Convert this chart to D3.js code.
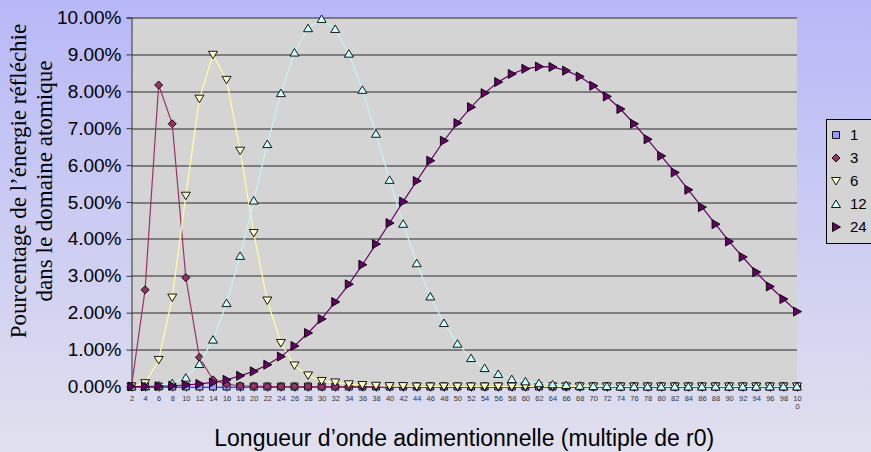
<!DOCTYPE html>
<html>
<head>
<meta charset="utf-8">
<script src="https://cdn.jsdelivr.net/npm/d3@7"></script>
<style>
  body { margin: 0; }
  svg { display: block; }
</style>
</head>
<body>
<div id="wrapper"></div>
<script>
// 1. Access Data
const categories = d3.range(2, 101, 2)
const seriesNames = ["1", "3", "6", "12", "24"]

const values1 = categories.map(() => 0)
const values3 = [0, 2.62, 8.17, 7.12, 2.95, 0.79, 0.18, 0.06, 0.02, 0.01,
  0, 0, 0, 0, 0, 0, 0, 0, 0, 0, 0, 0, 0, 0, 0,
  0, 0, 0, 0, 0, 0, 0, 0, 0, 0, 0, 0, 0, 0, 0,
  0, 0, 0, 0, 0, 0, 0, 0, 0, 0]
const values6 = [0, 0.09, 0.72, 2.41, 5.17, 7.8, 8.99, 8.31, 6.39, 4.16,
  2.33, 1.18, 0.57, 0.3, 0.15, 0.11, 0.06, 0.04, 0.02, 0.01,
  0.01, 0, 0, 0, 0, 0, 0, 0, 0, 0, 0, 0, 0, 0, 0,
  0, 0, 0, 0, 0, 0, 0, 0, 0, 0, 0, 0, 0, 0, 0]
const values12 = [0, 0.01, 0.03, 0.09, 0.24, 0.61, 1.27, 2.26, 3.54, 5.04,
  6.57, 7.95, 9.05, 9.71, 9.96, 9.69, 9.02, 8.04, 6.85, 5.6,
  4.41, 3.34, 2.44, 1.72, 1.16, 0.77, 0.5, 0.34, 0.2, 0.14,
  0.09, 0.06, 0.04, 0.02, 0.01, 0.01, 0, 0, 0, 0,
  0, 0, 0, 0, 0, 0, 0, 0, 0, 0]
const values24 = [0, 0, 0.01, 0.02, 0.04, 0.07, 0.11, 0.18, 0.29, 0.41,
  0.59, 0.81, 1.1, 1.45, 1.83, 2.29, 2.77, 3.3, 3.86, 4.43,
  5.01, 5.57, 6.12, 6.66, 7.14, 7.57, 7.95, 8.25, 8.47, 8.61,
  8.67, 8.66, 8.56, 8.4, 8.15, 7.86, 7.52, 7.12, 6.7, 6.25,
  5.8, 5.33, 4.86, 4.4, 3.93, 3.51, 3.1, 2.71, 2.37, 2.03]

const yTicks = d3.range(0, 10.01, 1)
const yTitleLines = ["Pourcentage de l\u2019\u00e9nergie r\u00e9fl\u00e9chie", "dans le domaine atomique"]
const xTitle = "Longueur d\u2019onde adimentionnelle (multiple de r0)"

const seriesValues = [values1, values3, values6, values12, values24]
const seriesStyles = [
  { symbol: "square", fill: "#9999ff", line: "#9999ff" },
  { symbol: "diamond", fill: "#993366", line: "#993366" },
  { symbol: "down", fill: "#ffffcc", line: "#ffffa0" },
  { symbol: "up", fill: "#ccffff", line: "#c4f4f4" },
  { symbol: "right", fill: "#660066", line: "#660066" },
]

// 2. Create Chart Dimensions
const dimensions = {
  width: 871,
  height: 452,
  margin: { top: 17.5, right: 74, bottom: 65.5, left: 131.5 },
}
dimensions.boundedWidth = dimensions.width - dimensions.margin.left - dimensions.margin.right
dimensions.boundedHeight = dimensions.height - dimensions.margin.top - dimensions.margin.bottom

// 3. Draw Canvas
const wrapper = d3.select("#wrapper")
  .append("svg")
  .attr("width", dimensions.width)
  .attr("height", dimensions.height)

const defs = wrapper.append("defs")
const grad = defs.append("linearGradient")
  .attr("id", "bg")
  .attr("x1", 0).attr("y1", 0).attr("x2", 0).attr("y2", 1)
grad.append("stop").attr("offset", "0%").attr("stop-color", "#b8b8f8")
grad.append("stop").attr("offset", "100%").attr("stop-color", "#e0e0ee")

wrapper.append("rect")
  .attr("width", dimensions.width)
  .attr("height", dimensions.height)
  .attr("fill", "url(#bg)")

const bounds = wrapper.append("g")
  .attr("transform", `translate(${dimensions.margin.left}, ${dimensions.margin.top})`)

// 4. Create Scales
const xScale = d3.scalePoint()
  .domain(categories)
  .range([0, dimensions.boundedWidth])
  .padding(0)

const yScale = d3.scaleLinear()
  .domain([0, 10])
  .range([dimensions.boundedHeight, 0])

// plot area
bounds.append("rect")
  .attr("width", dimensions.boundedWidth)
  .attr("height", dimensions.boundedHeight)
  .attr("fill", "#d4d4d4")

// gridlines
bounds.append("g")
  .selectAll("line")
  .data(yTicks)
  .join("line")
  .attr("x1", 0)
  .attr("x2", dimensions.boundedWidth)
  .attr("y1", d => Math.round(yScale(d)) + 0.5)
  .attr("y2", d => Math.round(yScale(d)) + 0.5)
  .attr("stroke", "#262626")
  .attr("stroke-width", 1)

// 6. Draw Peripherals (axes)
const yAxisGenerator = d3.axisLeft(yScale)
  .tickValues(yTicks)
  .tickSize(5)
  .tickPadding(5)
  .tickFormat(d => d3.format(".2f")(d) + "%")
const yAxis = bounds.append("g").call(yAxisGenerator)
yAxis.select(".domain").attr("stroke", "#333")
yAxis.selectAll(".tick line").attr("stroke", "#333")
yAxis.selectAll(".tick text")
  .attr("font-family", "Liberation Sans, Arial, sans-serif")
  .attr("font-size", 19)
  .attr("fill", "#000")

const xAxisGenerator = d3.axisBottom(xScale)
  .tickSize(5)
  .tickPadding(4)
  .tickSizeOuter(0)
const xAxis = bounds.append("g")
  .attr("transform", `translate(0, ${dimensions.boundedHeight})`)
  .call(xAxisGenerator)
xAxis.select(".domain").attr("stroke", "#333")
xAxis.selectAll(".tick line").attr("stroke", "#222")
xAxis.selectAll(".tick text")
  .attr("font-family", "Liberation Sans, Arial, sans-serif")
  .attr("font-size", 7.5)
  .attr("fill", "#333")
  .each(function (d) {
    if (d === 100) {
      const t = d3.select(this).text("")
      t.append("tspan").attr("x", 0).text("10")
      t.append("tspan").attr("x", 0).attr("dy", "1.15em").text("0")
    }
  })

// 5. Draw Data
const lineGenerator = d3.line()
  .x((d, i) => xScale(categories[i]))
  .y(d => yScale(d))

const symbolPath = (type) => {
  if (type === "square") return "M-3.5,-3.5H3.5V3.5H-3.5Z"
  if (type === "diamond") return "M0,-4L4,0L0,4L-4,0Z"
  if (type === "down") return "M-4.5,-3.5L4.5,-3.5L0,4Z"
  if (type === "up") return "M-4.5,3.5L4.5,3.5L0,-4Z"
  return "M-3.5,-4.5L4.5,0L-3.5,4.5Z"
}

seriesValues.forEach((values, si) => {
  const style = seriesStyles[si]
  const g = bounds.append("g")
  g.append("path")
    .datum(values)
    .attr("d", lineGenerator)
    .attr("fill", "none")
    .attr("stroke", style.line)
    .attr("stroke-width", 1.2)
  g.selectAll("path.marker")
    .data(values)
    .join("path")
    .attr("class", "marker")
    .attr("d", symbolPath(style.symbol))
    .attr("transform", (d, i) => `translate(${xScale(categories[i])}, ${yScale(d)})`)
    .attr("fill", style.fill)
    .attr("stroke", "#000")
    .attr("stroke-width", 0.9)
})

// axis titles
const yTitle = wrapper.append("text")
  .attr("transform", "translate(0, 181) rotate(-90)")
  .attr("font-family", "Liberation Serif, Times New Roman, serif")
  .attr("font-size", 23)
  .attr("text-anchor", "middle")
  .attr("fill", "#000")
yTitle.selectAll("tspan")
  .data(yTitleLines)
  .join("tspan")
  .attr("x", 0)
  .attr("y", (d, i) => 26 + i * 26)
  .text(d => d)

wrapper.append("text")
  .attr("x", dimensions.margin.left + dimensions.boundedWidth / 2)
  .attr("y", 446)
  .attr("text-anchor", "middle")
  .attr("font-family", "Liberation Sans, Arial, sans-serif")
  .attr("font-size", 23)
  .attr("fill", "#000")
  .text(xTitle)

// legend
const legend = wrapper.append("g")
legend.append("rect")
  .attr("x", 826.5)
  .attr("y", 119.5)
  .attr("width", 60)
  .attr("height", 124)
  .attr("fill", "#d4d4d4")
  .attr("stroke", "#000")
const legendItems = legend.selectAll("g.item")
  .data(seriesNames)
  .join("g")
  .attr("class", "item")
  .attr("transform", (d, i) => `translate(836, ${135 + i * 23})`)
legendItems.append("path")
  .attr("d", (d, i) => symbolPath(seriesStyles[i].symbol))
  .attr("fill", (d, i) => seriesStyles[i].fill)
  .attr("stroke", "#000")
  .attr("stroke-width", 0.9)
legendItems.append("text")
  .attr("x", 14)
  .attr("dy", "0.35em")
  .attr("font-family", "Liberation Sans, Arial, sans-serif")
  .attr("font-size", 15)
  .attr("fill", "#000")
  .text(d => d)
</script>
</body>
</html>
